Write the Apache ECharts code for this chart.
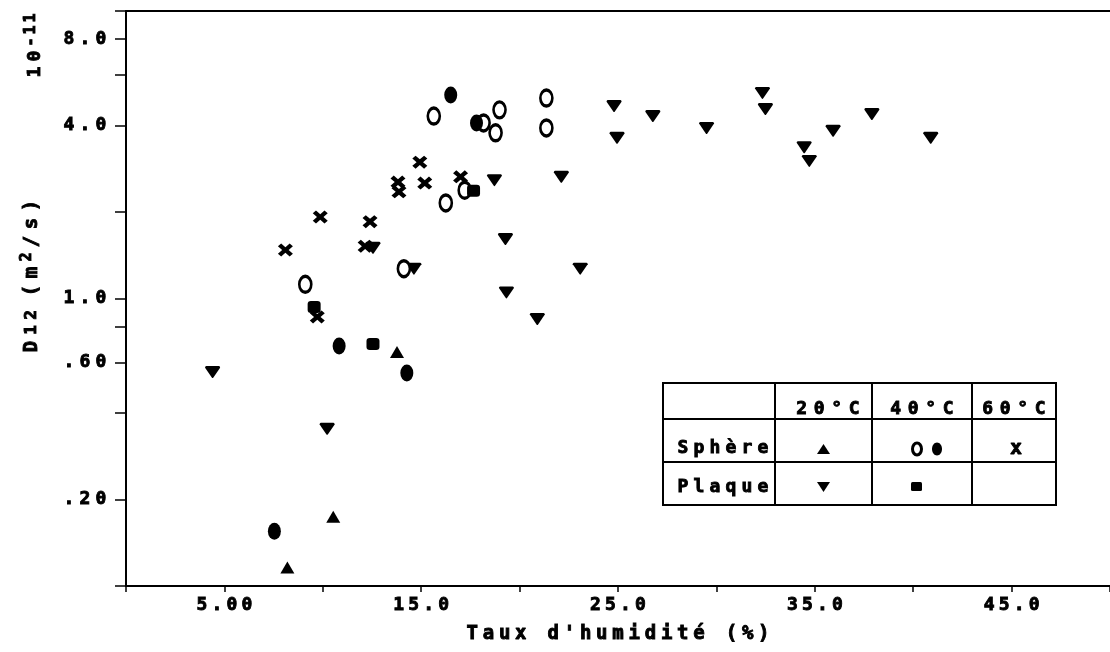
<!DOCTYPE html>
<html><head><meta charset="utf-8">
<script src="https://cdn.jsdelivr.net/npm/echarts@6/dist/echarts.min.js"></script>
<style>html,body{margin:0;padding:0;background:#fff}#c{width:1110px;height:652px}</style>
</head><body><div id="c"></div>
<script>
// ---- tick labels ----
const xTickValues = [5, 15, 25, 35, 45];
const xTickLabels = ['5.00', '15.0', '25.0', '35.0', '45.0'];
const yTickValues = [0.2, 0.6, 1, 4, 8];
const yTickLabels = ['.20', '.60', '1.0', '4.0', '8.0'];
const yTickMarks = [0.1, 0.2, 0.4, 0.6, 0.8, 1, 2, 4, 6, 8, 10];

// ---- series: [humidity %, D12 (1e-11 m2/s)] ----
const sphere20 = [[8.20, 0.116], [10.53, 0.174], [13.77, 0.652]];
const sphere40Open = [[15.64, 4.31], [18.98, 4.53], [18.78, 3.77], [16.25, 2.15], [9.11, 1.12],
  [14.12, 1.27], [21.36, 4.98], [21.36, 3.92], [17.21, 2.38], [18.17, 4.08]];
const sphere40Filled = [[10.83, 0.684], [14.27, 0.551], [7.54, 0.155], [16.50, 5.10], [17.81, 4.08]];
const sphere60 = [[8.10, 1.475], [9.87, 1.92], [12.40, 1.85], [12.15, 1.52], [13.82, 2.54],
  [13.87, 2.35], [14.93, 2.98], [15.18, 2.52], [17.00, 2.65], [9.72, 0.863]];
const plaque40 = [[9.56, 0.934], [17.66, 2.37], [12.55, 0.695]];
const plaque20 = [[4.40, 0.555], [10.22, 0.352], [12.55, 1.50], [14.63, 1.27], [18.72, 2.58],
  [19.28, 1.61], [19.33, 1.05], [22.12, 2.65], [23.08, 1.27], [20.90, 0.849], [24.80, 4.67],
  [24.95, 3.62], [26.77, 4.31], [29.50, 3.92], [32.34, 5.19], [32.49, 4.56], [34.46, 3.36],
  [34.72, 3.01], [35.93, 3.83], [37.90, 4.38], [40.89, 3.62]];

// ---- text ----
const xName = "Taux d'humidité (%)";
const tableCols = ['20°C', '40°C', '60°C'];
const tableRows = ['Sphère', 'Plaque'];

const MONO = "'DejaVu Sans Mono', monospace";
function spaced(str, key) {
  return str.split('').map(c => '{' + key + '|' + c + '}').join('');
}
function findIdx(arr, v) {
  let i = arr.findIndex(t => Math.abs(t - v) / Math.abs(t) < 1e-6);
  if (i < 0) { const p = Math.pow(10, v); i = arr.findIndex(t => Math.abs(t - p) / Math.abs(t) < 1e-6); }
  return i;
}
// rich cell for ECharts label styles
const cell = (w, size) => ({ width: w, align: 'center', fontSize: size, fontWeight: 'bold', fontFamily: MONO,
  color: '#000', textBorderColor: '#000', textBorderWidth: 0.9 });
// rich cell for graphic (zrender) text styles
const gcell = (w, size) => ({ width: w, align: 'center', fontSize: size, fontWeight: 'bold', fontFamily: MONO,
  fill: '#000', stroke: '#000', lineWidth: 0.9 });

const OVAL = 'path://M5,0A5,7 0 1,1 5,14A5,7 0 1,1 5,0Z';
const CROSS = 'path://M0,2.6L2.6,0L6,3.4L9.4,0L12,2.6L8.6,6L12,9.4L9.4,12L6,8.6L2.6,12L0,9.4L3.4,6Z';
const DOWN = 'path://M1,0L12,0Q13,0 13,1.5L7.2,10.5Q6.5,11.5 5.8,10.5L0,1.5Q0,0 1,0Z';

const chart = echarts.init(document.getElementById('c'), null, { renderer: 'canvas' });

const tL = 663, tR = 1056, tT = 383, tB = 505;
const colX = [775, 872, 972];
const rowY = [419, 462];
const graphics = [
  { type: 'rect', shape: { x: tL, y: tT, width: tR - tL, height: tB - tT }, style: { fill: '#fff', stroke: '#000', lineWidth: 2 }, z: 50 },
];
colX.forEach(x => graphics.push({ type: 'line', shape: { x1: x, y1: tT, x2: x, y2: tB }, style: { stroke: '#000', lineWidth: 2 }, z: 51 }));
rowY.forEach(y => graphics.push({ type: 'line', shape: { x1: tL, y1: y, x2: tR, y2: y }, style: { stroke: '#000', lineWidth: 2 }, z: 51 }));
const colCenters = [828, 922, 1014];
tableCols.forEach((t, i) => graphics.push({ type: 'text', x: colCenters[i], y: 409, z: 52,
  style: { text: spaced(t, 'h'), rich: { h: gcell(17.5, 18) }, align: 'center', verticalAlign: 'middle' } }));
const rowCenters = [448, 487];
tableRows.forEach((t, i) => graphics.push({ type: 'text', x: 675, y: rowCenters[i], z: 52,
  style: { text: spaced(t, 'r'), rich: { r: gcell(16, 18) }, align: 'left', verticalAlign: 'middle' } }));
// legend glyphs
graphics.push({ type: 'polygon', shape: { points: [[817, 454], [830, 454], [823.5, 444]] }, style: { fill: '#000' }, z: 52 });
graphics.push({ type: 'ellipse', shape: { cx: 917, cy: 449, rx: 4.5, ry: 6 }, style: { fill: '#fff', stroke: '#000', lineWidth: 3 }, z: 52 });
graphics.push({ type: 'ellipse', shape: { cx: 937, cy: 449, rx: 5, ry: 6.5 }, style: { fill: '#000' }, z: 52 });
graphics.push({ type: 'text', x: 1016, y: 449, z: 52, style: { text: 'x', font: "bold 20px " + MONO, fill: '#000', stroke: '#000', lineWidth: 0.9, align: 'center', verticalAlign: 'middle' } });
graphics.push({ type: 'polygon', shape: { points: [[817, 482], [830, 482], [823.5, 492]] }, style: { fill: '#000' }, z: 52 });
graphics.push({ type: 'rect', shape: { x: 911, y: 482, width: 11, height: 9, r: 1.5 }, style: { fill: '#000' }, z: 52 });
// y axis title (rotated) and unit factor
graphics.push({ type: 'text', x: 32, y: 276, rotation: Math.PI / 2, z: 52,
  style: { text: '{n|D}{s|1}{s|2}{sp| }{n|(}{n|m}{sup|2}{n|/}{n|s}{n|)}',
    rich: { n: Object.assign(gcell(18, 19), { lineHeight: 24 }), s: Object.assign(gcell(15, 16), { lineHeight: 24 }),
      sp: { width: 8 }, sup: Object.assign(gcell(13, 15), { verticalAlign: 'top', lineHeight: 15 }) },
    align: 'center', verticalAlign: 'middle' } });
graphics.push({ type: 'text', x: 35, y: 46, rotation: Math.PI / 2, z: 52,
  style: { text: '{t|1}{t|0}{u|-}{u|1}{u|1}',
    rich: { t: Object.assign(gcell(16, 18), { lineHeight: 22 }), u: Object.assign(gcell(12, 15), { verticalAlign: 'top', lineHeight: 15 }) },
    align: 'center', verticalAlign: 'middle' } });

const option = {
  backgroundColor: '#fff',
  animation: false,
  grid: { left: 126, right: -4, top: 11, bottom: 66 },
  xAxis: [{
    type: 'value', min: 0, max: 50, interval: 5, position: 'bottom',
    axisLine: { lineStyle: { color: '#000', width: 2 } },
    axisTick: { length: 6, lineStyle: { color: '#000', width: 1.5 } },
    axisLabel: { customValues: xTickValues, margin: 10,
      formatter: v => spaced(xTickLabels[findIdx(xTickValues, v)] || '', 'a'),
      rich: { a: cell(15, 18) } },
    splitLine: { show: false },
    name: spaced(xName, 'nm'), nameLocation: 'middle', nameGap: 37,
    nameTextStyle: { rich: { nm: Object.assign(cell(16.2, 19), { lineHeight: 22 }) } }
  }, {
    type: 'value', min: 0, max: 50, position: 'top',
    axisLine: { lineStyle: { color: '#000', width: 2 } },
    axisTick: { show: false }, axisLabel: { show: false }, splitLine: { show: false }
  }],
  yAxis: {
    type: 'log', logBase: 10, min: 0.1, max: 10,
    axisLine: { lineStyle: { color: '#000', width: 2 } },
    axisTick: { customValues: yTickMarks, length: 11, lineStyle: { color: '#000', width: 1.5 } },
    axisLabel: { customValues: yTickValues, margin: 17,
      formatter: v => spaced(yTickLabels[findIdx(yTickValues, v)] || '', 'b'),
      rich: { b: cell(16, 18) } },
    splitLine: { show: false }, minorTick: { show: false }
  },
  graphic: graphics,
  series: [
    { name: 'Plaque 20°C', type: 'scatter', data: plaque20, symbol: DOWN, symbolSize: [15, 12], itemStyle: { color: '#000', opacity: 1 } },
    { name: 'Sphère 60°C', type: 'scatter', data: sphere60, symbol: CROSS, symbolSize: [15, 13], itemStyle: { color: '#000', opacity: 1 } },
    { name: 'Sphère 40°C open', type: 'scatter', data: sphere40Open, symbol: OVAL, symbolSize: [12, 16], itemStyle: { color: '#fff', borderColor: '#000', borderWidth: 3, opacity: 1 } },
    { name: 'Sphère 40°C filled', type: 'scatter', data: sphere40Filled, symbol: OVAL, symbolSize: [13, 17], itemStyle: { color: '#000', opacity: 1 } },
    { name: 'Plaque 40°C', type: 'scatter', data: plaque40, symbol: 'roundRect', symbolSize: [13, 12], itemStyle: { color: '#000', opacity: 1 } },
    { name: 'Sphère 20°C', type: 'scatter', data: sphere20, symbol: 'triangle', symbolSize: [14, 12], itemStyle: { color: '#000', opacity: 1 } }
  ]
};
chart.setOption(option);
</script>
</body></html>
